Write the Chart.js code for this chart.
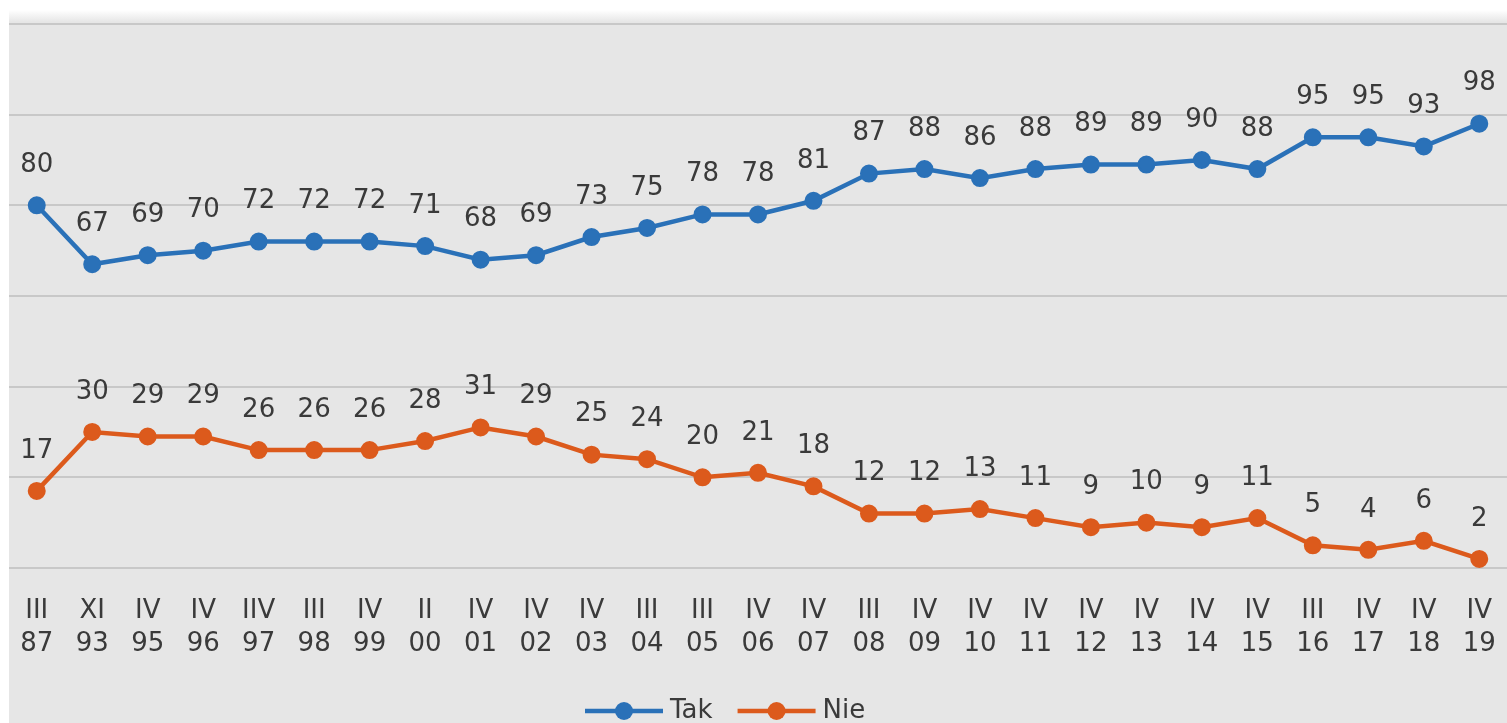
<!DOCTYPE html>
<html>
<head>
<meta charset="utf-8">
<script src="https://cdn.jsdelivr.net/npm/chart.js@4.4.1/dist/chart.umd.min.js"></script>
<style>
  body { margin: 0; background: #ffffff; }
</style>
</head>
<body>
<canvas id="wykres" width="1507" height="723"></canvas>
<script>
// miesiac badania (cyfry rzymskie) i rok
const miesiace = ["III","XI","IV","IV","IIV","III","IV","II","IV","IV","IV","III","III","IV","IV","III","IV","IV","IV","IV","IV","IV","IV","III","IV","IV","IV"];
const lata = ["87","93","95","96","97","98","99","00","01","02","03","04","05","06","07","08","09","10","11","12","13","14","15","16","17","18","19"];
const tak = [80,67,69,70,72,72,72,71,68,69,73,75,78,78,81,87,88,86,88,89,89,90,88,95,95,93,98];
const nie = [17,30,29,29,26,26,26,28,31,29,25,24,20,21,18,12,12,13,11,9,10,9,11,5,4,6,2];

const niebieski = "#2a71b8";
const pomaranczowy = "#dc5a1c";
const czcionka = "'DejaVu Sans', Verdana, sans-serif";

const etykiety = miesiace.map((m, i) => [m, lata[i]]);

// szare tlo jak w Excelu
const tlo = {
    id: "tlo",
    beforeDraw(chart) {
        const ctx = chart.ctx;
        ctx.save();
        const g = ctx.createLinearGradient(0, 10, 0, 22);
        g.addColorStop(0, "#ffffff");
        g.addColorStop(1, "#e6e6e6");
        ctx.fillStyle = g;
        ctx.fillRect(9, 10, chart.width - 9, 12);
        ctx.fillStyle = "#e6e6e6";
        ctx.fillRect(9, 22, chart.width - 9, chart.height - 22);
        ctx.restore();
    }
};

// wartosci nad punktami
const wartosci = {
    id: "wartosci",
    afterDatasetsDraw(chart) {
        const ctx = chart.ctx;
        ctx.save();
        ctx.font = "26px " + czcionka;
        ctx.fillStyle = "#3a3a3a";
        ctx.textAlign = "center";
        ctx.textBaseline = "middle";
        chart.data.datasets.forEach((ds, i) => {
            chart.getDatasetMeta(i).data.forEach((pt, j) => {
                ctx.fillText(ds.data[j], pt.x, pt.y - 40);
            });
        });
        ctx.restore();
    }
};

// legenda na dole: linia z kropka + nazwa
const legenda = {
    id: "legenda",
    afterDraw(chart) {
        const ctx = chart.ctx;
        ctx.save();
        ctx.font = "26px " + czcionka;
        ctx.textBaseline = "middle";
        const y = 711;
        const dl = 78;
        const szer = chart.data.datasets.map(ds => dl + 8 + ctx.measureText(ds.label).width);
        let x = 585;
        chart.data.datasets.forEach((ds, i) => {
            ctx.strokeStyle = ds.borderColor;
            ctx.lineWidth = 4.5;
            ctx.beginPath();
            ctx.moveTo(x, y);
            ctx.lineTo(x + dl, y);
            ctx.stroke();
            ctx.fillStyle = ds.borderColor;
            ctx.beginPath();
            ctx.arc(x + dl / 2, y, 9, 0, Math.PI * 2);
            ctx.fill();
            ctx.fillStyle = "#3a3a3a";
            ctx.fillText(ds.label, x + dl + 7, y);
            x += szer[i] + 24;
        });
        ctx.restore();
    }
};

new Chart(document.getElementById("wykres"), {
    type: "line",
    data: {
        labels: etykiety,
        datasets: [{
            label: "Tak",
            data: tak,
            borderColor: niebieski,
            backgroundColor: niebieski,
            borderWidth: 4.5,
            pointRadius: 8,
            pointBorderWidth: 2,
            pointBackgroundColor: niebieski,
            tension: 0
        }, {
            label: "Nie",
            data: nie,
            borderColor: pomaranczowy,
            backgroundColor: pomaranczowy,
            borderWidth: 4.5,
            pointRadius: 8,
            pointBorderWidth: 2,
            pointBackgroundColor: pomaranczowy,
            tension: 0
        }]
    },
    options: {
        responsive: false,
        animation: false,
        layout: { autoPadding: false, padding: { left: 9, right: -4, top: 24, bottom: 43 } },
        plugins: {
            legend: { display: false },
            tooltip: { enabled: false }
        },
        scales: {
            x: {
                offset: true,
                grid: { display: false },
                border: { display: false },
                afterFit(s) { s.paddingLeft = 0; s.paddingRight = 0; },
                ticks: {
                    color: "#3a3a3a",
                    font: { size: 26, family: czcionka, lineHeight: 1.27 },
                    padding: 19,
                    maxRotation: 0,
                    autoSkip: false
                }
            },
            y: {
                min: 0,
                max: 120,
                border: { display: false },
                afterFit(s) { s.width = 0; },
                grid: { color: "#c8c8c8", lineWidth: 2, drawTicks: false },
                ticks: { display: false, stepSize: 20, padding: 0 }
            }
        }
    },
    plugins: [tlo, wartosci, legenda]
});
</script>
</body>
</html>
